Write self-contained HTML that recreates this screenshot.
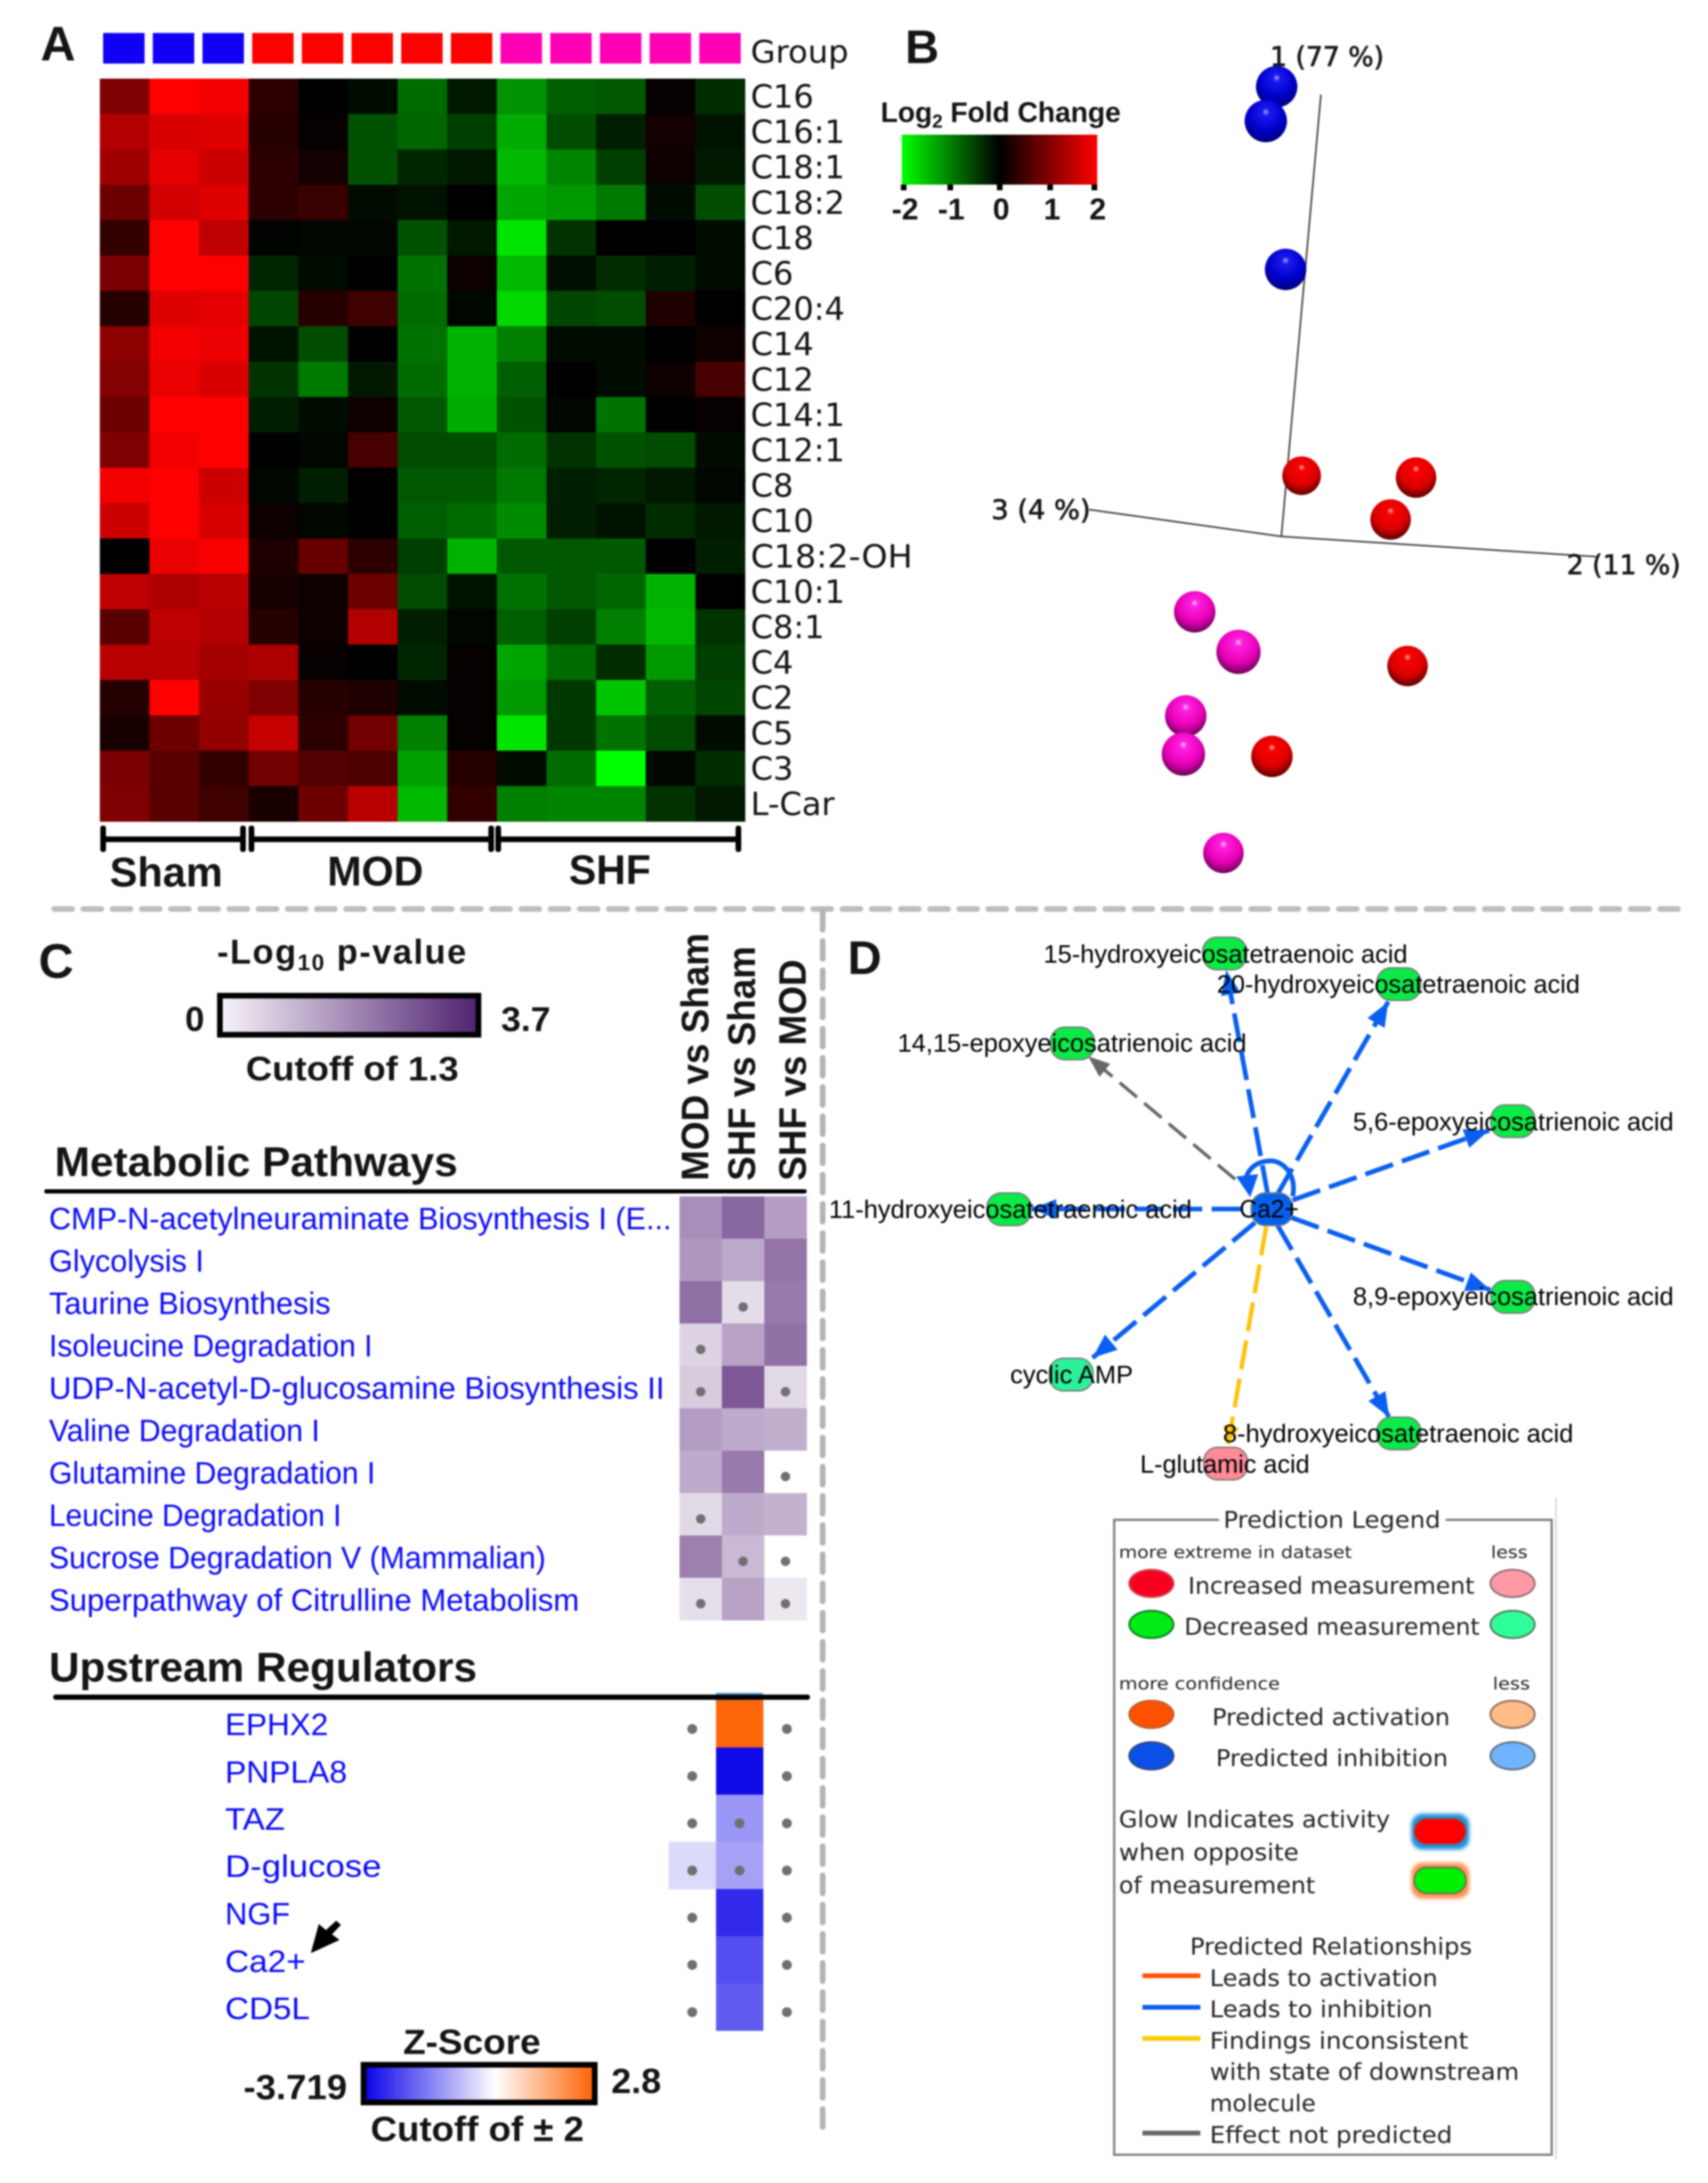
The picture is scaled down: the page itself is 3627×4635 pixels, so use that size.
<!DOCTYPE html>
<html lang="en">
<head>
<meta charset="utf-8">
<title>Acylcarnitine metabolomics figure</title>
<style>
html,body{margin:0;padding:0;background:#fff;}
svg{display:block;filter:blur(1.6px);}
text{font-family:"Liberation Sans",sans-serif;fill:#141414;}
.dv{font-family:"DejaVu Sans",sans-serif;}
.b{font-weight:bold;}
.lnk{fill:#0a0af5;font-size:66px;}
.net{font-size:54px;fill:#000;}
.leg{font-family:"DejaVu Sans",sans-serif;font-size:49px;fill:#222;}
.legs{font-family:"DejaVu Sans",sans-serif;font-size:36px;fill:#222;}
</style>
</head>
<body>
<svg id="fig" xmlns="http://www.w3.org/2000/svg" width="3627" height="4635" viewBox="0 0 3627 4635">
<defs>
<linearGradient id="fcGrad"><stop offset="0" stop-color="#00ff00"/><stop offset=".5" stop-color="#000"/><stop offset="1" stop-color="#ff0000"/></linearGradient>
<linearGradient id="pGrad"><stop offset="0" stop-color="#f8f4fa"/><stop offset="1" stop-color="#4f2270"/></linearGradient>
<linearGradient id="zGrad"><stop offset="0" stop-color="#0800e8"/><stop offset=".57" stop-color="#fff"/><stop offset="1" stop-color="#ff6000"/></linearGradient>
<radialGradient id="sphereSham" cx=".5" cy=".36" r=".68" fx=".5" fy=".28"><stop offset="0" stop-color="#a8a8ff"/><stop offset=".13" stop-color="#1a1af0"/><stop offset=".6" stop-color="#0000cc"/><stop offset="1" stop-color="#00006a"/></radialGradient>
<radialGradient id="sphereMOD" cx=".5" cy=".36" r=".68" fx=".5" fy=".28"><stop offset="0" stop-color="#ffb0b0"/><stop offset=".13" stop-color="#f80000"/><stop offset=".6" stop-color="#dd0000"/><stop offset="1" stop-color="#4a0000"/></radialGradient>
<radialGradient id="sphereSHF" cx=".5" cy=".36" r=".68" fx=".5" fy=".28"><stop offset="0" stop-color="#ffc0ff"/><stop offset=".13" stop-color="#ff20e0"/><stop offset=".6" stop-color="#e800b8"/><stop offset="1" stop-color="#5a004c"/></radialGradient>
<filter id="glowBlur" x="-20%" y="-30%" width="140%" height="160%"><feGaussianBlur stdDeviation="4"/></filter>
<marker id="headBlue" markerUnits="userSpaceOnUse" markerWidth="54" markerHeight="48" refX="52" refY="24" orient="auto"><path d="M0 3 L52 24 L0 45 Z" fill="#0a5ff0"/></marker>
<marker id="headGrey" markerUnits="userSpaceOnUse" markerWidth="48" markerHeight="42" refX="46" refY="21" orient="auto"><path d="M0 3 L46 21 L0 39 Z" fill="#666"/></marker>
<marker id="headGold" markerUnits="userSpaceOnUse" markerWidth="40" markerHeight="40" refX="38" refY="20" orient="auto"><path d="M0 3 L38 20 L0 37 Z" fill="#fdc20a"/></marker>
</defs>

<rect width="3627" height="4635" fill="#fff"/>

<!-- Separators -->
<line x1="115" y1="1930" x2="3565" y2="1930" stroke="#bdbdbd" stroke-width="12" stroke-linecap="round" stroke-dasharray="38 24"/>
<line x1="1747" y1="1936" x2="1747" y2="4520" stroke="#b4b4b8" stroke-width="12" stroke-linecap="round" stroke-dasharray="38 24"/>

<!-- Panel A -->
<text x="86" y="128" class="b" font-size="103">A</text>
<g id="groupBar"></g>
<text x="1594" y="133" class="dv" font-size="66" textLength="208" lengthAdjust="spacingAndGlyphs">Group</text>
<g id="heat"></g>
<g id="heatLabels"></g>
<g fill="#000">
<rect x="219" y="1776" width="296" height="12"/>
<rect x="213" y="1753" width="12" height="56" rx="5"/>
<rect x="510" y="1753" width="12" height="56" rx="5"/>
<rect x="534" y="1776" width="508" height="12"/>
<rect x="528" y="1753" width="12" height="56" rx="5"/>
<rect x="1037" y="1753" width="12" height="56" rx="5"/>
<rect x="1058" y="1776" width="509" height="12"/>
<rect x="1052" y="1753" width="12" height="56" rx="5"/>
<rect x="1562" y="1753" width="12" height="56" rx="5"/>
</g>
<text x="233" y="1882" class="b" font-size="88" textLength="240" lengthAdjust="spacingAndGlyphs">Sham</text>
<text x="695" y="1880" class="b" font-size="88" textLength="204" lengthAdjust="spacingAndGlyphs">MOD</text>
<text x="1208" y="1877" class="b" font-size="88" textLength="174" lengthAdjust="spacingAndGlyphs">SHF</text>

<!-- Panel B -->
<text x="1922" y="134" class="b" font-size="100">B</text>
<text x="1870" y="259" class="b" font-size="60" textLength="510">Log<tspan font-size="40" dy="12">2</tspan><tspan dy="-12"> Fold Change</tspan></text>
<rect x="1915" y="286" width="415" height="106" fill="url(#fcGrad)"/>
<g fill="#000">
<rect x="1913" y="392" width="12" height="12"/>
<rect x="2012" y="392" width="12" height="12"/>
<rect x="2117" y="392" width="12" height="12"/>
<rect x="2224" y="392" width="12" height="12"/>
<rect x="2318" y="392" width="12" height="12"/>
</g>
<g class="b" font-size="64" text-anchor="middle">
<text x="1922" y="466" class="b">-2</text>
<text x="2020" y="466" class="b">-1</text>
<text x="2126" y="466" class="b">0</text>
<text x="2234" y="466" class="b">1</text>
<text x="2331" y="466" class="b">2</text>
</g>
<line x1="2805" y1="201" x2="2721" y2="1139" stroke="#444" stroke-width="3.5"/>
<line x1="2313" y1="1082" x2="2721" y2="1139" stroke="#444" stroke-width="3.5"/>
<line x1="2721" y1="1139" x2="3391" y2="1182" stroke="#444" stroke-width="3.5"/>
<text x="2697" y="140" class="dv" font-size="57" stroke="#222" stroke-width="1.4" textLength="242" lengthAdjust="spacingAndGlyphs">1 (77 %)</text>
<text x="2105" y="1102" class="dv" font-size="57" stroke="#222" stroke-width="1.4" textLength="211" lengthAdjust="spacingAndGlyphs">3 (4 %)</text>
<text x="3327" y="1219" class="dv" font-size="57" stroke="#222" stroke-width="1.4" textLength="242" lengthAdjust="spacingAndGlyphs">2 (11 %)</text>
<g id="pca"></g>

<!-- Panel C -->
<text x="82" y="2076" class="b" font-size="103">C</text>
<text x="461" y="2046" class="b" font-size="73" textLength="529">-Log<tspan font-size="48" dy="14">10</tspan><tspan dy="-14"> p-value</tspan></text>
<rect x="467" y="2114" width="549" height="83" fill="url(#pGrad)" stroke="#000" stroke-width="12"/>
<text x="393" y="2189" class="b" font-size="73" textLength="41" lengthAdjust="spacingAndGlyphs">0</text>
<text x="1064" y="2189" class="b" font-size="73" textLength="105" lengthAdjust="spacingAndGlyphs">3.7</text>
<text x="522" y="2294" class="b" font-size="72" textLength="452" lengthAdjust="spacingAndGlyphs">Cutoff of 1.3</text>
<text transform="translate(1504 2507) rotate(-90)" class="b" font-size="82" textLength="526" lengthAdjust="spacingAndGlyphs">MOD vs Sham</text>
<text transform="translate(1603 2507) rotate(-90)" class="b" font-size="82" textLength="498" lengthAdjust="spacingAndGlyphs">SHF vs Sham</text>
<text transform="translate(1711 2507) rotate(-90)" class="b" font-size="82" textLength="470" lengthAdjust="spacingAndGlyphs">SHF vs MOD</text>
<text x="116" y="2497" class="b" font-size="88" textLength="856" lengthAdjust="spacingAndGlyphs">Metabolic Pathways</text>
<rect x="94" y="2525" width="1619" height="9" rx="4" fill="#000"/>
<g>
<text x="104" y="2610" class="lnk" textLength="1322" lengthAdjust="spacingAndGlyphs">CMP-N-acetylneuraminate Biosynthesis I (E...</text>
<text x="104" y="2700" class="lnk" textLength="329" lengthAdjust="spacingAndGlyphs">Glycolysis I</text>
<text x="104" y="2790" class="lnk" textLength="598" lengthAdjust="spacingAndGlyphs">Taurine Biosynthesis</text>
<text x="104" y="2880" class="lnk" textLength="687" lengthAdjust="spacingAndGlyphs">Isoleucine Degradation I</text>
<text x="104" y="2970" class="lnk" textLength="1307" lengthAdjust="spacingAndGlyphs">UDP-N-acetyl-D-glucosamine Biosynthesis II</text>
<text x="104" y="3060" class="lnk" textLength="575" lengthAdjust="spacingAndGlyphs">Valine Degradation I</text>
<text x="104" y="3150" class="lnk" textLength="693" lengthAdjust="spacingAndGlyphs">Glutamine Degradation I</text>
<text x="104" y="3240" class="lnk" textLength="621" lengthAdjust="spacingAndGlyphs">Leucine Degradation I</text>
<text x="104" y="3330" class="lnk" textLength="1055" lengthAdjust="spacingAndGlyphs">Sucrose Degradation V (Mammalian)</text>
<text x="104" y="3420" class="lnk" textLength="1126" lengthAdjust="spacingAndGlyphs">Superpathway of Citrulline Metabolism</text>
</g>
<g id="pathHeat"></g>

<text x="104" y="3570" class="b" font-size="88" textLength="909" lengthAdjust="spacingAndGlyphs">Upstream Regulators</text>
<rect x="1520" y="3594" width="100" height="20" fill="#62a8e0"/>
<g id="regHeat"></g>
<rect x="113" y="3598" width="1607" height="11" rx="5" fill="#000"/>
<g>
<text x="478" y="3684" class="lnk" font-size="68" textLength="219" lengthAdjust="spacingAndGlyphs">EPHX2</text>
<text x="478" y="3785" class="lnk" font-size="68" textLength="259" lengthAdjust="spacingAndGlyphs">PNPLA8</text>
<text x="478" y="3885" class="lnk" font-size="68" textLength="127" lengthAdjust="spacingAndGlyphs">TAZ</text>
<text x="478" y="3985" class="lnk" font-size="68" textLength="332" lengthAdjust="spacingAndGlyphs">D-glucose</text>
<text x="478" y="4086" class="lnk" font-size="68" textLength="138" lengthAdjust="spacingAndGlyphs">NGF</text>
<text x="478" y="4187" class="lnk" font-size="68" textLength="171" lengthAdjust="spacingAndGlyphs">Ca2+</text>
<text x="478" y="4287" class="lnk" font-size="68" textLength="180" lengthAdjust="spacingAndGlyphs">CD5L</text>
</g>
<path d="M660 4147 L677 4085 L692 4098 L714 4078 L724 4087 L705 4107 L721 4119 Z" fill="#000"/>
<text x="856" y="4361" class="b" font-size="74" textLength="292" lengthAdjust="spacingAndGlyphs">Z-Score</text>
<rect x="772" y="4384" width="491" height="80" fill="url(#zGrad)" stroke="#000" stroke-width="12"/>
<text x="517" y="4457" class="b" font-size="74" textLength="220" lengthAdjust="spacingAndGlyphs">-3.719</text>
<text x="1298" y="4444" class="b" font-size="74" textLength="106" lengthAdjust="spacingAndGlyphs">2.8</text>
<text x="787" y="4546" class="b" font-size="74" textLength="453" lengthAdjust="spacingAndGlyphs">Cutoff of ± 2</text>

<!-- Panel D -->
<text x="1800" y="2068" class="b" font-size="100">D</text>
<g fill="none" stroke-linecap="butt">
<line x1="2692" y1="2535" x2="2604" y2="2060" stroke="#0a5ff0" stroke-width="10" stroke-dasharray="62 20" marker-end="url(#headBlue)"/>
<line x1="2713" y1="2535" x2="2948" y2="2127" stroke="#0a5ff0" stroke-width="10" stroke-dasharray="62 20" marker-end="url(#headBlue)"/>
<line x1="2745" y1="2548" x2="3162" y2="2400" stroke="#0a5ff0" stroke-width="10" stroke-dasharray="62 20" marker-end="url(#headBlue)"/>
<line x1="2742" y1="2585" x2="3165" y2="2739" stroke="#0a5ff0" stroke-width="10" stroke-dasharray="62 20" marker-end="url(#headBlue)"/>
<line x1="2712" y1="2600" x2="2950" y2="3009" stroke="#0a5ff0" stroke-width="10" stroke-dasharray="62 20" marker-end="url(#headBlue)"/>
<line x1="2665" y1="2596" x2="2320" y2="2883" stroke="#0a5ff0" stroke-width="10" stroke-dasharray="62 20" marker-end="url(#headBlue)"/>
<line x1="2635" y1="2567" x2="2191" y2="2567" stroke="#0a5ff0" stroke-width="10" stroke-dasharray="62 20" marker-end="url(#headBlue)"/>
<line x1="2623" y1="2504" x2="2311" y2="2243" stroke="#666" stroke-width="7" stroke-dasharray="48 20" marker-end="url(#headGrey)"/>
<line x1="2689" y1="2604" x2="2608" y2="3066" stroke="#fdc20a" stroke-width="9" stroke-dasharray="62 20" marker-end="url(#headGold)"/>
<path d="M2745 2540 C2755 2490 2720 2462 2695 2465 C2670 2466 2650 2480 2645 2505" stroke="#0a5ff0" stroke-width="10"/>
<path d="M2625 2498 L2672 2493 L2655 2542 Z" fill="#0a5ff0"/>
</g>
<g stroke="#777" stroke-width="3">
<rect x="2554" y="1990" width="93" height="69" rx="30" fill="#0cea48"/>
<rect x="2924" y="2055" width="93" height="69" rx="30" fill="#0cea48"/>
<rect x="2231" y="2181" width="93" height="69" rx="30" fill="#0cea48"/>
<rect x="3166" y="2346" width="93" height="69" rx="30" fill="#0cea48"/>
<rect x="2096" y="2533" width="93" height="69" rx="30" fill="#0cea48"/>
<rect x="2657" y="2533" width="88" height="69" rx="30" fill="#0660ee"/>
<rect x="3166" y="2719" width="93" height="69" rx="30" fill="#0cea48"/>
<rect x="2228" y="2884" width="93" height="69" rx="30" fill="#2cf09a"/>
<rect x="2924" y="3009" width="93" height="69" rx="30" fill="#0cea48"/>
<rect x="2556" y="3073" width="93" height="69" rx="30" fill="#ff8a98"/>
</g>
<g>
<text x="2216" y="2044" class="net" textLength="773" lengthAdjust="spacingAndGlyphs">15-hydroxyeicosatetraenoic acid</text>
<text x="2584" y="2108" class="net" textLength="771" lengthAdjust="spacingAndGlyphs">20-hydroxyeicosatetraenoic acid</text>
<text x="1906" y="2233" class="net" textLength="741" lengthAdjust="spacingAndGlyphs">14,15-epoxyeicosatrienoic acid</text>
<text x="2873" y="2400" class="net" textLength="681" lengthAdjust="spacingAndGlyphs">5,6-epoxyeicosatrienoic acid</text>
<text x="1760" y="2586" class="net" textLength="771" lengthAdjust="spacingAndGlyphs">11-hydroxyeicosatetraenoic acid</text>
<text x="2632" y="2585" class="net" textLength="126" lengthAdjust="spacingAndGlyphs">Ca2+</text>
<text x="2873" y="2771" class="net" textLength="681" lengthAdjust="spacingAndGlyphs">8,9-epoxyeicosatrienoic acid</text>
<text x="2145" y="2937" class="net" textLength="261" lengthAdjust="spacingAndGlyphs">cyclic AMP</text>
<text x="2597" y="3062" class="net" textLength="744" lengthAdjust="spacingAndGlyphs">8-hydroxyeicosatetraenoic acid</text>
<text x="2421" y="3127" class="net" textLength="360" lengthAdjust="spacingAndGlyphs">L-glutamic acid</text>
</g>

<!-- Prediction legend -->
<line x1="3304" y1="3180" x2="3304" y2="4585" stroke="#e2e2e2" stroke-width="5"/>
<rect x="2366" y="3227" width="929" height="1348" fill="#fff" stroke="#8a8080" stroke-width="5"/>
<rect x="2589" y="3215" width="481" height="24" fill="#fff"/>
<text x="2598" y="3244" class="leg" textLength="461" lengthAdjust="spacingAndGlyphs">Prediction Legend</text>
<text x="2376" y="3308" class="legs" textLength="495" lengthAdjust="spacingAndGlyphs">more extreme in dataset</text>
<text x="3166" y="3308" class="legs" textLength="78" lengthAdjust="spacingAndGlyphs">less</text>
<text x="2376" y="3587" class="legs" textLength="342" lengthAdjust="spacingAndGlyphs">more confidence</text>
<text x="3170" y="3587" class="legs" textLength="79" lengthAdjust="spacingAndGlyphs">less</text>
<g stroke-width="4">
<ellipse cx="2445" cy="3362" rx="47" ry="29" fill="#f80020" stroke="#d04050"/>
<ellipse cx="3212" cy="3362" rx="47" ry="29" fill="#ff9aa5" stroke="#907078"/>
<ellipse cx="2445" cy="3449" rx="47" ry="29" fill="#00ea14" stroke="#108020"/>
<ellipse cx="3212" cy="3449" rx="47" ry="29" fill="#2fff9a" stroke="#508060"/>
<ellipse cx="2445" cy="3640" rx="47" ry="29" fill="#ff5000" stroke="#b86030"/>
<ellipse cx="3212" cy="3640" rx="47" ry="29" fill="#ffbb88" stroke="#907060"/>
<ellipse cx="2445" cy="3728" rx="47" ry="29" fill="#0a50e8" stroke="#304880"/>
<ellipse cx="3212" cy="3728" rx="47" ry="29" fill="#70b4ff" stroke="#607080"/>
<rect x="2997" y="3851" width="123" height="76" rx="24" fill="#1a90e0" stroke="none" filter="url(#glowBlur)"/>
<rect x="3003" y="3861" width="110" height="55" rx="27" fill="#ff0000" stroke="#666" stroke-width="3"/>
<rect x="2997" y="3955" width="123" height="76" rx="24" fill="#ff9050" stroke="none" filter="url(#glowBlur)"/>
<rect x="3003" y="3965" width="110" height="55" rx="27" fill="#00f000" stroke="#666" stroke-width="3"/>
</g>
<text x="2523" y="3384" class="leg" textLength="608" lengthAdjust="spacingAndGlyphs">Increased measurement</text>
<text x="2515" y="3471" class="leg" textLength="627" lengthAdjust="spacingAndGlyphs">Decreased measurement</text>
<text x="2574" y="3663" class="leg" textLength="505" lengthAdjust="spacingAndGlyphs">Predicted activation</text>
<text x="2582" y="3750" class="leg" textLength="493" lengthAdjust="spacingAndGlyphs">Predicted inhibition</text>
<text x="2376" y="3880" class="leg" textLength="576" lengthAdjust="spacingAndGlyphs">Glow Indicates activity</text>
<text x="2376" y="3950" class="leg" textLength="382" lengthAdjust="spacingAndGlyphs">when opposite</text>
<text x="2376" y="4020" class="leg" textLength="417" lengthAdjust="spacingAndGlyphs">of measurement</text>
<text x="2527" y="4150" class="leg" textLength="599" lengthAdjust="spacingAndGlyphs">Predicted Relationships</text>
<rect x="2426" y="4190" width="123" height="10" fill="#ff5000"/>
<rect x="2426" y="4257" width="123" height="10" fill="#0a5ff0"/>
<rect x="2426" y="4323" width="123" height="10" fill="#ffc800"/>
<rect x="2426" y="4524" width="123" height="10" fill="#666"/>
<text x="2569" y="4217" class="leg" textLength="484" lengthAdjust="spacingAndGlyphs">Leads to activation</text>
<text x="2569" y="4283" class="leg" textLength="473" lengthAdjust="spacingAndGlyphs">Leads to inhibition</text>
<text x="2569" y="4350" class="leg" textLength="549" lengthAdjust="spacingAndGlyphs">Findings inconsistent</text>
<text x="2569" y="4416" class="leg" textLength="657" lengthAdjust="spacingAndGlyphs">with state of downstream</text>
<text x="2569" y="4483" class="leg" textLength="225" lengthAdjust="spacingAndGlyphs">molecule</text>
<text x="2569" y="4550" class="leg" textLength="515" lengthAdjust="spacingAndGlyphs">Effect not predicted</text>
</svg>

<script>
// ---------- Panel A data ----------
const sampleGroups = ['Sham','Sham','Sham','MOD','MOD','MOD','MOD','MOD','SHF','SHF','SHF','SHF','SHF'];
const metabolites = ['C16','C16:1','C18:1','C18:2','C18','C6','C20:4','C14','C12','C14:1','C12:1','C8','C10','C18:2-OH','C10:1','C8:1','C4','C2','C5','C3','L-Car'];
const log2FoldChange = [
[1.0,2,1.9,.35,0,-.1,-.85,-.2,-1.15,-.75,-.7,.05,-.35],
[1.4,1.7,1.75,.3,.05,-.65,-.8,-.5,-1.35,-.6,-.25,.15,-.15],
[1.25,1.8,1.6,.35,.15,-.65,-.3,-.2,-1.45,-1.05,-.5,.1,-.2],
[.85,1.65,1.75,.35,.45,-.1,-.15,0,-1.3,-1.2,-.95,-.1,-.6],
[.4,2,1.5,-.03,-.05,-.05,-.65,-.2,-1.8,-.4,0,0,-.1],
[.95,2,2,-.3,-.1,0,-.9,.1,-1.45,-.12,-.35,-.25,-.1],
[.3,1.75,1.8,-.55,.3,.5,-.85,-.05,-1.7,-.55,-.6,.25,0],
[1.1,1.9,1.85,-.15,-.6,0,-.9,-1.4,-1,-.1,-.1,0,.12],
[1.05,1.85,1.7,-.4,-.95,-.2,-.85,-1.4,-.75,0,-.1,.1,.55],
[.85,2,2,-.25,-.1,.12,-.7,-1.35,-.65,-.05,-.9,0,.05],
[1,1.9,2,0,-.05,.55,-.6,-.6,-.85,-.4,-.65,-.6,-.1],
[1.9,2,1.6,-.05,-.25,0,-.7,-.7,-.95,-.25,-.3,-.2,-.05],
[1.6,2,1.7,.1,-.05,0,-.75,-.85,-1.1,-.25,-.15,-.35,-.2],
[0,1.85,1.95,.25,.8,.35,-.5,-1.4,-.7,-.7,-.7,0,-.25],
[1.5,1.35,1.45,.2,.1,.85,-.6,-.15,-.9,-.7,-.8,-1.4,0],
[.7,1.5,1.4,.3,.1,1.4,-.25,-.05,-.75,-.5,-1,-1.45,-.4],
[1.45,1.45,1.3,1.35,.05,0,-.3,.05,-1.3,-.85,-.35,-1.2,-.5],
[.3,2,1.2,1,.3,.25,-.1,.05,-1.2,-.45,-1.55,-.75,-.55],
[.2,.85,1.15,1.55,.35,.9,-1,.05,-1.8,-.45,-.9,-.6,-.1],
[.95,.7,.4,.9,.65,.6,-1.25,.3,-.1,-.85,-2,-.07,-.35],
[1,.7,.5,.2,.85,1.45,-1.45,.4,-1,-1.05,-1.05,-.4,-.2]
];
// ---------- Panel B data (projected PCA units) ----------
const pcaGroup = ['Sham','Sham','Sham','MOD','MOD','MOD','SHF','SHF','MOD','SHF','SHF','MOD','SHF'];
const pcaProjX = [-1,-3.3,.9,4.3,28.6,23.2,-18.4,-9.1,26.8,-20.3,-20.8,-2,-12.3];
const pcaProjY = [95.5,88.2,56.7,12.9,12.5,3.6,-16,-24.5,-27.5,-38.1,-46.2,-46.7,-67.2];
const pcaDepth = [0,1,0,-3,-1,-1,0,3,-1,0,2,0,-1];
// ---------- Panel C data ----------
const modVsSham = [1.96,1.8,2.5,.75,.9,1.7,1.45,.65,2.2,.55];
const shfVsSham = [2.64,1.5,.6,1.6,2.9,1.45,2.3,1.45,1.2,1.6];
const shfVsMod = [1.7,2.4,2.3,2.45,.65,1.4,0,1.35,0,.4];
const zModVsSham = [0,0,0,-.53,0,0,0];
const zShfVsSham = [2.7,-3.57,-1.52,-1.35,-3.1,-2.58,-2.38];
const zShfVsMod = [0,0,0,0,0,0,0];
const pCutoff = 1.3;
const zCutoff = 2;

const NS = 'http://www.w3.org/2000/svg';
function mk(tag, parent, attrs){
  const el = document.createElementNS(NS, tag);
  for (const k in attrs) el.setAttribute(k, attrs[k]);
  parent.appendChild(el);
  return el;
}
// axis functions
const heatX = i => 212 + i * 1370 / 13;
const heatY = j => 167 + j * 75.1;
const groupX = i => 219 + i * 105.5;
const pcaX = v => 2721 + v * 10;
const pcaY = v => 1139 - v * 10;
const pathX = c => 1443 + c * 90;
const pathY = r => 2540 + r * 90;
const regX = c => 1420 + c * 100.5;
const regY = r => 3610 + r * 100.2;
const groupColor = {Sham:'#1000f5', MOD:'#ff0000', SHF:'#ff00b4'};

function fcColor(v){
  const t = Math.min(1, Math.abs(v) / 2) * 255;
  return v >= 0 ? `rgb(${t|0},0,0)` : `rgb(0,${t|0},0)`;
}
function pColor(v){
  const t = Math.min(1, v / 3.7);
  return `rgb(${255-164*t|0},${255-213*t|0},${255-132*t|0})`;
}
function zColor(z){
  if (z < 0){ const t = Math.min(1, -z / 3.719); return `rgb(${255-247*t|0},${255-255*t|0},${255-23*t|0})`; }
  const t = Math.min(1, z / 2.8);
  return `rgb(255,${255-159*t|0},${255-255*t|0})`;
}

const groupBar = document.getElementById('groupBar');
sampleGroups.forEach((g, i) => {
  const r = mk('rect', groupBar, {x:groupX(i), y:70, width:88, height:65, fill:groupColor[g]});
  
  
});

const heat = document.getElementById('heat');
const heatLabels = document.getElementById('heatLabels');
log2FoldChange.forEach((row, j) => {
  row.forEach((v, i) => {
    const c = mk('rect', heat, {x:heatX(i), y:heatY(j), width:1370/13+.6, height:75.7, fill:fcColor(v)});
    
    
  });
  const t = mk('text', heatLabels, {x:1594, y:heatY(j)+37.5+24, 'class':'dv', 'font-size':68});
  t.textContent = metabolites[j];
  if (metabolites[j].length > 6) {
    t.setAttribute('textLength', 344);
    t.setAttribute('lengthAdjust', 'spacingAndGlyphs');
  }
  
  
});

const pca = document.getElementById('pca');
pcaProjX.forEach((v, i) => {
  const s = mk('circle', pca, {cx:pcaX(v), cy:pcaY(pcaProjY[i]), r:44 + pcaDepth[i], fill:'url(#sphere'+pcaGroup[i]+')'});
  
  
});

const pathHeat = document.getElementById('pathHeat');
[modVsSham, shfVsSham, shfVsMod].forEach((col, c) => {
  col.forEach((v, r) => {
    const cell = mk('rect', pathHeat, {x:pathX(c), y:pathY(r), width:90.5, height:90.5, fill:pColor(v)});
    
    
  });
});
[modVsSham, shfVsSham, shfVsMod].forEach((col, c) => {
  col.forEach((v, r) => {
    if (v < pCutoff){
      const d = mk('circle', pathHeat, {cx:pathX(c)+45, cy:pathY(r)+55, r:10, fill:'#707070'});
      
      
    }
  });
});

const regHeat = document.getElementById('regHeat');
[zModVsSham, zShfVsSham, zShfVsMod].forEach((col, c) => {
  col.forEach((z, r) => {
    if (z !== 0){
      const cell = mk('rect', regHeat, {x:regX(c), y:regY(r), width:100.5, height:100.7, fill:zColor(z)});
      
      
    }
  });
});
[zModVsSham, zShfVsSham, zShfVsMod].forEach((col, c) => {
  col.forEach((z, r) => {
    if (Math.abs(z) < zCutoff){
      const d = mk('circle', regHeat, {cx:regX(c)+50, cy:regY(r)+61, r:10.5, fill:'#707070'});
      
      
    }
  });
});
</script>
</body>
</html>
